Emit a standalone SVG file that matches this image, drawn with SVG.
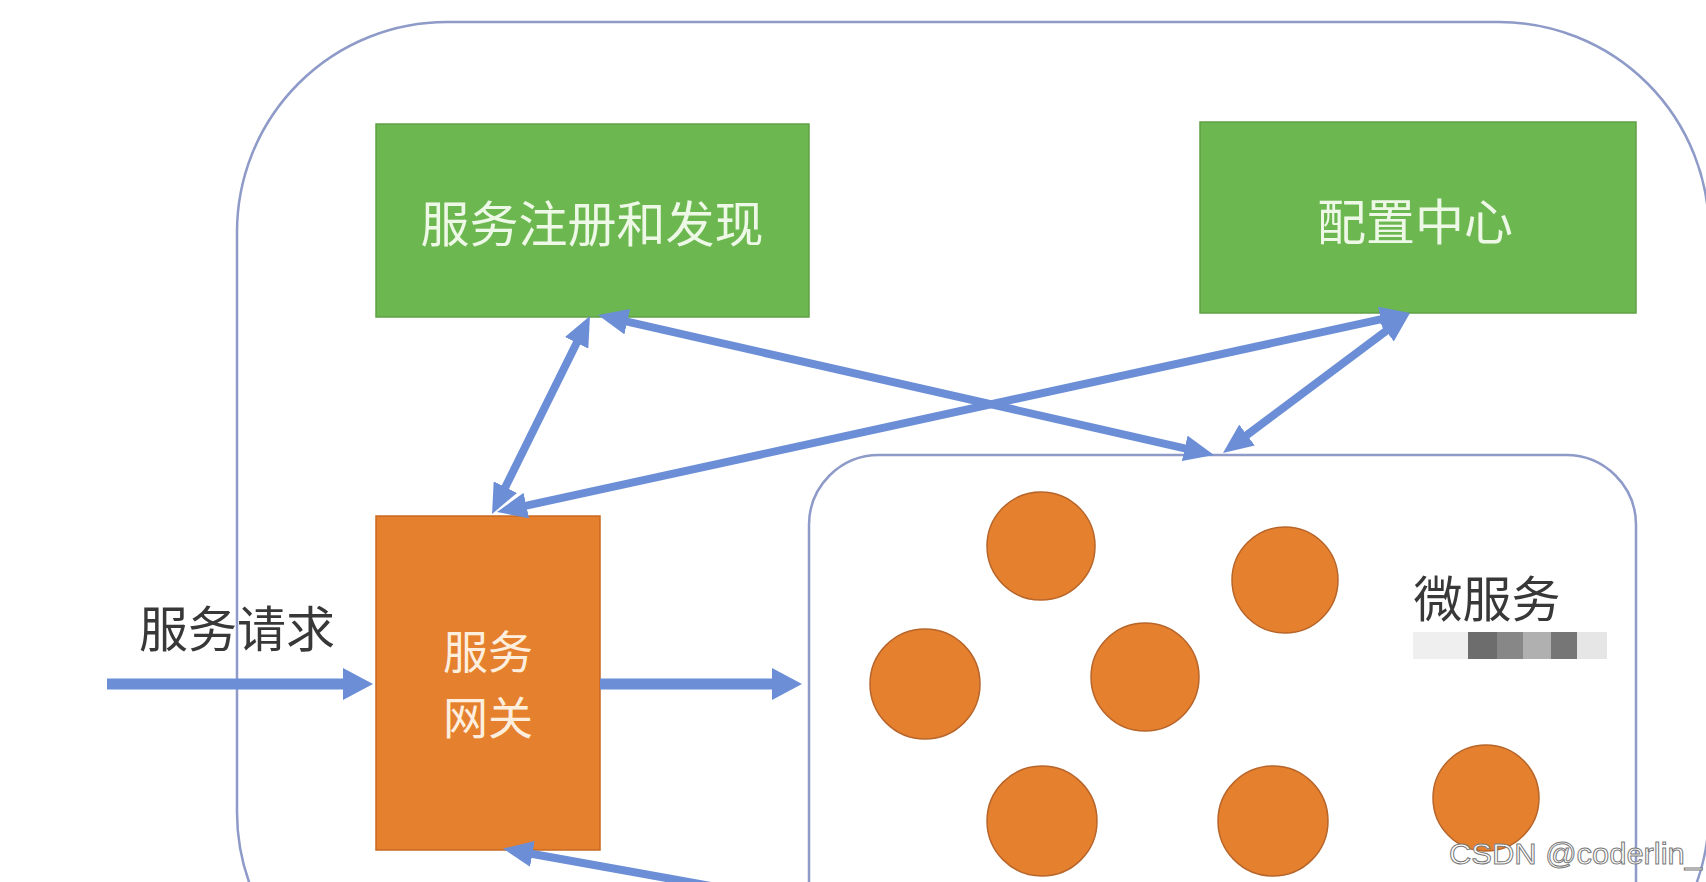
<svg xmlns="http://www.w3.org/2000/svg" width="1706" height="882" viewBox="0 0 1706 882">
  <defs>
    <style>
      .frame { fill: none; stroke: #8e9ac8; stroke-width: 2.5; }
      .green { fill: #6cb750; stroke: #5fa146; stroke-width: 1.5; }
      .orange { fill: #e5802f; stroke: #c96a22; stroke-width: 1.5; }
      .ball { fill: #e5802f; stroke: #b8652a; stroke-width: 1.5; }
      .lbl { font-family: "Noto Sans CJK SC", "Noto Sans", sans-serif; font-size: 49px; text-anchor: middle; }
      .gw { font-size: 45px; }
      .light { fill: #eef8e6; }
      .lightO { fill: #fdeedd; }
      .dark { fill: #383838; }
      .conn { stroke: #6b8ed6; stroke-width: 8; fill: none; }
      .hconn { stroke: #6b8ed6; stroke-width: 11; fill: none; }
    </style>
    <marker id="ah" markerUnits="userSpaceOnUse" markerWidth="30" markerHeight="26" refX="8" refY="13" orient="auto-start-reverse" viewBox="0 0 30 26">
      <path d="M0,0 L30,13 L0,26 z" fill="#6b8ed6"/>
    </marker>
    <marker id="ahh" markerUnits="userSpaceOnUse" markerWidth="30" markerHeight="32" refX="8" refY="16" orient="auto" viewBox="0 0 30 32">
      <path d="M0,0 L30,16 L0,32 z" fill="#6b8ed6"/>
    </marker>
  </defs>
  <rect width="1706" height="882" fill="#ffffff"/>

  <g id="outer-frame">
    <rect class="frame" x="237" y="22" width="1472" height="1000" rx="210" ry="210"/>
  </g>

  <g id="microservice-box">
    <rect class="frame" x="809" y="455" width="827" height="600" rx="70" ry="70"/>
    <text class="lbl dark" x="1487" y="617">微服务</text>
    <rect x="1413" y="632" width="55" height="27" fill="#efefef"/>
    <rect x="1468" y="632" width="29" height="27" fill="#6d6d6d"/>
    <rect x="1497" y="632" width="26" height="27" fill="#878787"/>
    <rect x="1523" y="632" width="28" height="27" fill="#b0b0b0"/>
    <rect x="1551" y="632" width="26" height="27" fill="#767676"/>
    <rect x="1577" y="632" width="30" height="27" fill="#e6e6e6"/>
  </g>

  <g id="ms1"><circle class="ball" cx="1041" cy="546" r="54"/></g>
  <g id="ms2"><circle class="ball" cx="1285" cy="580" r="53"/></g>
  <g id="ms3"><circle class="ball" cx="925" cy="684" r="55"/></g>
  <g id="ms4"><circle class="ball" cx="1145" cy="677" r="54"/></g>
  <g id="ms5"><circle class="ball" cx="1042" cy="821" r="55"/></g>
  <g id="ms6"><circle class="ball" cx="1273" cy="821" r="55"/></g>
  <g id="ms7"><circle class="ball" cx="1486" cy="798" r="53"/></g>

  <g id="registry">
    <rect class="green" x="376" y="124" width="433" height="193"/>
    <text class="lbl light" x="592" y="242">服务注册和发现</text>
  </g>

  <g id="config">
    <rect class="green" x="1200" y="122" width="436" height="191"/>
    <text class="lbl light" x="1415" y="240">配置中心</text>
  </g>

  <g id="gateway">
    <rect class="orange" x="376" y="516" width="224" height="334"/>
    <text class="lbl gw lightO" x="488" y="669">服务</text>
    <text class="lbl gw lightO" x="488" y="735">网关</text>
  </g>

  <g id="request-label">
    <text class="lbl dark" x="237" y="647">服务请求</text>
  </g>

  <g id="connectors">
    <line class="conn" x1="501.8" y1="494.3" x2="580.2" y2="335.7" marker-start="url(#ah)" marker-end="url(#ah)"/>
    <line class="conn" x1="619.5" y1="319.9" x2="1192.5" y2="450.1" marker-start="url(#ah)" marker-end="url(#ah)"/>
    <line class="conn" x1="518.5" y1="507.3" x2="1388.5" y2="317.7" marker-start="url(#ah)" marker-end="url(#ah)"/>
    <line class="conn" x1="1392.4" y1="326.2" x2="1240.6" y2="439.8" marker-start="url(#ah)" marker-end="url(#ah)"/>
    <line class="conn" x1="900" y1="920" x2="524.5" y2="852.5" marker-end="url(#ah)"/>
    <line class="hconn" x1="107" y1="684" x2="351" y2="684" marker-end="url(#ahh)"/>
    <line class="hconn" x1="600" y1="684" x2="780" y2="684" marker-end="url(#ahh)"/>
  </g>

  <g id="watermark">
    <text x="1449" y="864" font-family="Liberation Sans, Arial, sans-serif" font-size="30" textLength="253" lengthAdjust="spacingAndGlyphs" fill="#ffffff" stroke="#7a7a7a" stroke-width="1">CSDN @coderlin_</text>
  </g>
</svg>
